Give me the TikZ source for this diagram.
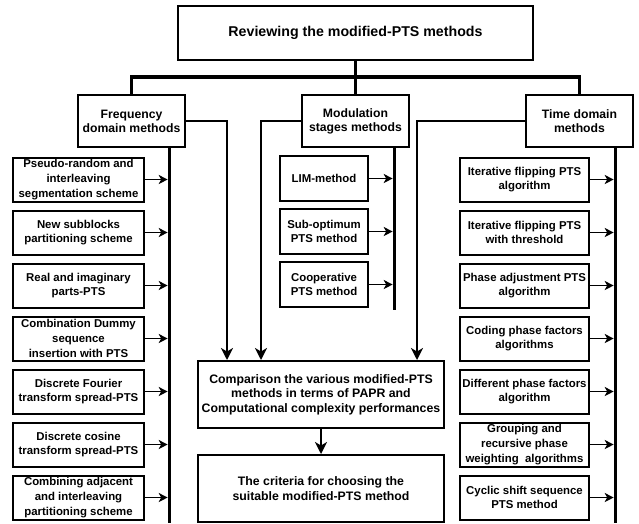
\documentclass[tikz,border=0pt]{standalone}
\usepackage{fontspec}
\setmainfont{Liberation Sans}
\usetikzlibrary{arrows.meta}
\begin{document}
\begin{tikzpicture}[x=1pt,y=-1pt,
  basebox/.style={draw, line width=2pt, align=center, inner sep=1pt, fill=white},
  topbox/.style={basebox, line width=2.5pt, minimum width=355pt, minimum height=54pt, font=\bfseries\fontsize{14.2}{17}\selectfont},
  catbox/.style={basebox, minimum width=107pt, minimum height=52pt, font=\bfseries\fontsize{12.2}{14}\selectfont},
  leftbox/.style={basebox, minimum width=131pt, minimum height=44pt, font=\bfseries\fontsize{11.4}{14.8}\selectfont},
  midbox/.style={basebox, minimum width=88pt, minimum height=45pt, font=\bfseries\fontsize{11.4}{14.8}\selectfont},
  rightbox/.style={basebox, minimum width=129pt, minimum height=44pt, font=\bfseries\fontsize{11.4}{14.8}\selectfont},
  bigbox/.style={basebox, minimum width=246pt, minimum height=67pt, font=\bfseries\fontsize{12.3}{14.5}\selectfont},
  stem/.style={line width=3pt},
  barline/.style={line width=3.5pt, line cap=rect},
  sarrow/.style={line width=1.6pt, -{Stealth[length=9pt,width=9pt,inset=2.5pt]}, shorten >=1.3pt},
  barrow/.style={line width=2.6pt, -{Stealth[length=12pt,width=12pt,inset=3.5pt]}}
]
\useasboundingbox (0,0) rectangle (639,523);

% coordinates for line positions
\coordinate (bary) at (0,77);
\coordinate (flx) at (169,0);
\coordinate (mlx) at (394,0);
\coordinate (tlx) at (615,0);
\coordinate (fax) at (227,0);
\coordinate (max) at (261,0);
\coordinate (tax) at (417,0);
\coordinate (fbot) at (169,523);
\coordinate (mbot) at (394,310);
\coordinate (tbot) at (615,523);

% top and category boxes
\node[topbox] (top) at (355.5,33) {Reviewing the modified-PTS methods};
\node[catbox] (freq) at (131.5,121) {Frequency\\domain methods};
\node[catbox] (mod) at (355.5,121) {Modulation\\stages methods};
\node[catbox] (time) at (579.5,121) {Time domain\\methods};

% left column
\node[leftbox] (l1) at (78.5,179.5) {Pseudo-random and\\interleaving\\segmentation scheme};
\node[leftbox] (l2) at (78.5,232.5) {New subblocks\\partitioning scheme};
\node[leftbox] (l3) at (78.5,285.5) {Real and imaginary\\parts-PTS};
\node[leftbox] (l4) at (78.5,338.5) {Combination Dummy\\sequence\\insertion with PTS};
\node[leftbox] (l5) at (78.5,391.5) {Discrete Fourier\\transform spread-PTS};
\node[leftbox] (l6) at (78.5,444.5) {Discrete cosine\\transform spread-PTS};
\node[leftbox] (l7) at (78.5,497.5) {Combining adjacent\\and interleaving\\partitioning scheme};

% middle column
\node[midbox] (m1) at (324,178.5) {LIM-method};
\node[midbox] (m2) at (324,231.5) {Sub-optimum\\PTS method};
\node[midbox] (m3) at (324,284.5) {Cooperative\\PTS method};

% right column
\node[rightbox] (r1) at (524.5,179.5) {Iterative flipping PTS\\algorithm};
\node[rightbox] (r2) at (524.5,232.5) {Iterative flipping PTS\\with threshold};
\node[rightbox] (r3) at (524.5,285.5) {Phase adjustment PTS\\algorithm};
\node[rightbox] (r4) at (524.5,338.5) {Coding phase factors\\algorithms};
\node[rightbox] (r5) at (524.5,391.5) {Different phase factors\\algorithm};
\node[rightbox] (r6) at (524.5,444.5) {Grouping and\\recursive phase\\weighting\ \ algorithms};
\node[rightbox] (r7) at (524.5,497.5) {Cyclic shift sequence\\PTS method};

% bottom boxes
\node[bigbox] (cmp) at (321,394.5) {Comparison the various modified-PTS\\methods in terms of PAPR and\\Computational complexity performances};
\node[bigbox] (crit) at (321,488.5) {The criteria for choosing the\\suitable modified-PTS method};

% tree lines
\draw[stem] (top.south) -- (mod.north);
\draw[barline] (freq.north |- bary) -- (time.north |- bary);
\draw[stem] (freq.north |- bary) -- (freq.north);
\draw[stem] (time.north |- bary) -- (time.north);

% vertical collector lines
\draw[stem] (freq.south -| flx) -- (fbot);
\draw[stem] (mod.south -| mlx) -- (mbot);
\draw[stem] (time.south -| tlx) -- (tbot);

% small arrows
\foreach \n in {l1,l2,l3,l4,l5,l6,l7} \draw[sarrow] (\n.east) -- (\n.east -| flx);
\foreach \n in {m1,m2,m3} \draw[sarrow] (\n.east) -- (\n.east -| mlx);
\foreach \n in {r1,r2,r3,r4,r5,r6,r7} \draw[sarrow] (\n.east) -- (\n.east -| tlx);

% big arrows to comparison
\draw[barrow] (freq.east) -| (cmp.north -| fax);
\draw[barrow] (mod.west) -| (cmp.north -| max);
\draw[barrow] (time.west) -| (cmp.north -| tax);
\draw[barrow] (cmp.south) -- (crit.north);
\end{tikzpicture}
\end{document}
